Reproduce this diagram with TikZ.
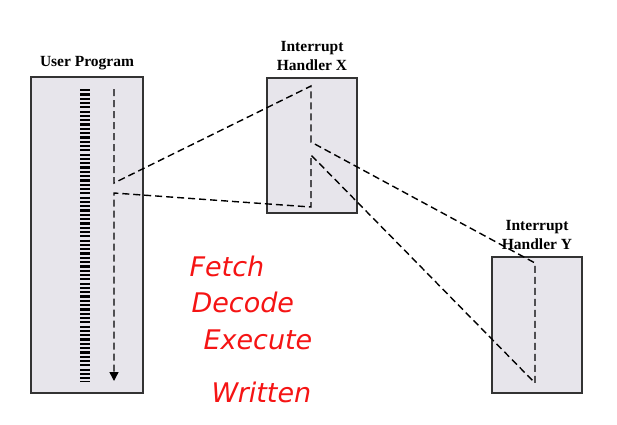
\documentclass[tikz,border=0pt]{standalone}
\usepackage{fontspec}
\setmainfont{Liberation Serif}
\newfontfamily\handfont{DejaVu Sans}
\usepackage{tikz}
\usetikzlibrary{arrows.meta, positioning, calc}
\definecolor{boxgray}{RGB}{231,229,235}
\definecolor{inkred}{RGB}{245,20,20}

\begin{document}
\begin{tikzpicture}[x=1pt, y=-1pt,
    prog/.style={rectangle, draw=black!80, fill=boxgray, line width=1.4pt, inner sep=0pt},
    title/.style={font=\fontsize{15.5}{19}\selectfont\bfseries, align=center},
    flow/.style={line width=1.4pt, dash pattern=on 7pt off 4pt},
    ink/.style={text=inkred, font=\handfont\fontsize{27}{29}\selectfont\slshape, anchor=west}
]
\useasboundingbox (0,0) rectangle (617,424);
\node[prog, minimum width=112pt, minimum height=316pt] (user) at (87,235) {};
\node[prog, minimum width=90pt, minimum height=135pt] (hx) at (312,145.5) {};
\node[prog, minimum width=90pt, minimum height=136pt] (hy) at (537,325) {};
\node[title, above=3pt of user] (usertitle) {User Program};
\node[title, above=3pt of hx] (hxtitle) {Interrupt\\Handler X};
\node[title, above=3pt of hy] (hytitle) {Interrupt\\Handler Y};
% instruction bars
\coordinate (bartop) at (85,89);
\coordinate (barbot) at (85,382);
\draw[line width=10pt, dash pattern=on 2.2pt off 2.1pt] (bartop) -- (barbot);
% flow of control
\coordinate (u1) at (114,89);
\coordinate (u2) at (114,183);
\coordinate (u3) at (114,193);
\coordinate (u4) at (114,381);
\coordinate (x1) at (311,86);
\coordinate (x2) at (311,142);
\coordinate (x3) at (311,155);
\coordinate (x4) at (311,207);
\coordinate (y1) at (535,263);
\coordinate (y2) at (535,383);
\draw[flow, -{Triangle[length=9pt, width=9pt]}] (u1) -- (u2) -- (x1) -- (x2) -- (y1) -- (y2)
    -- (x3) -- (x4) -- (u3) -- (u4);
% handwritten notes
\node[ink] (fetch) at (186,266) {Fetch};
\node[ink] (decode) at (188,302) {Decode};
\node[ink] (execute) at (200,340) {Execute};
\node[ink] (written) at (208,392) {Written};
\end{tikzpicture}
\end{document}
